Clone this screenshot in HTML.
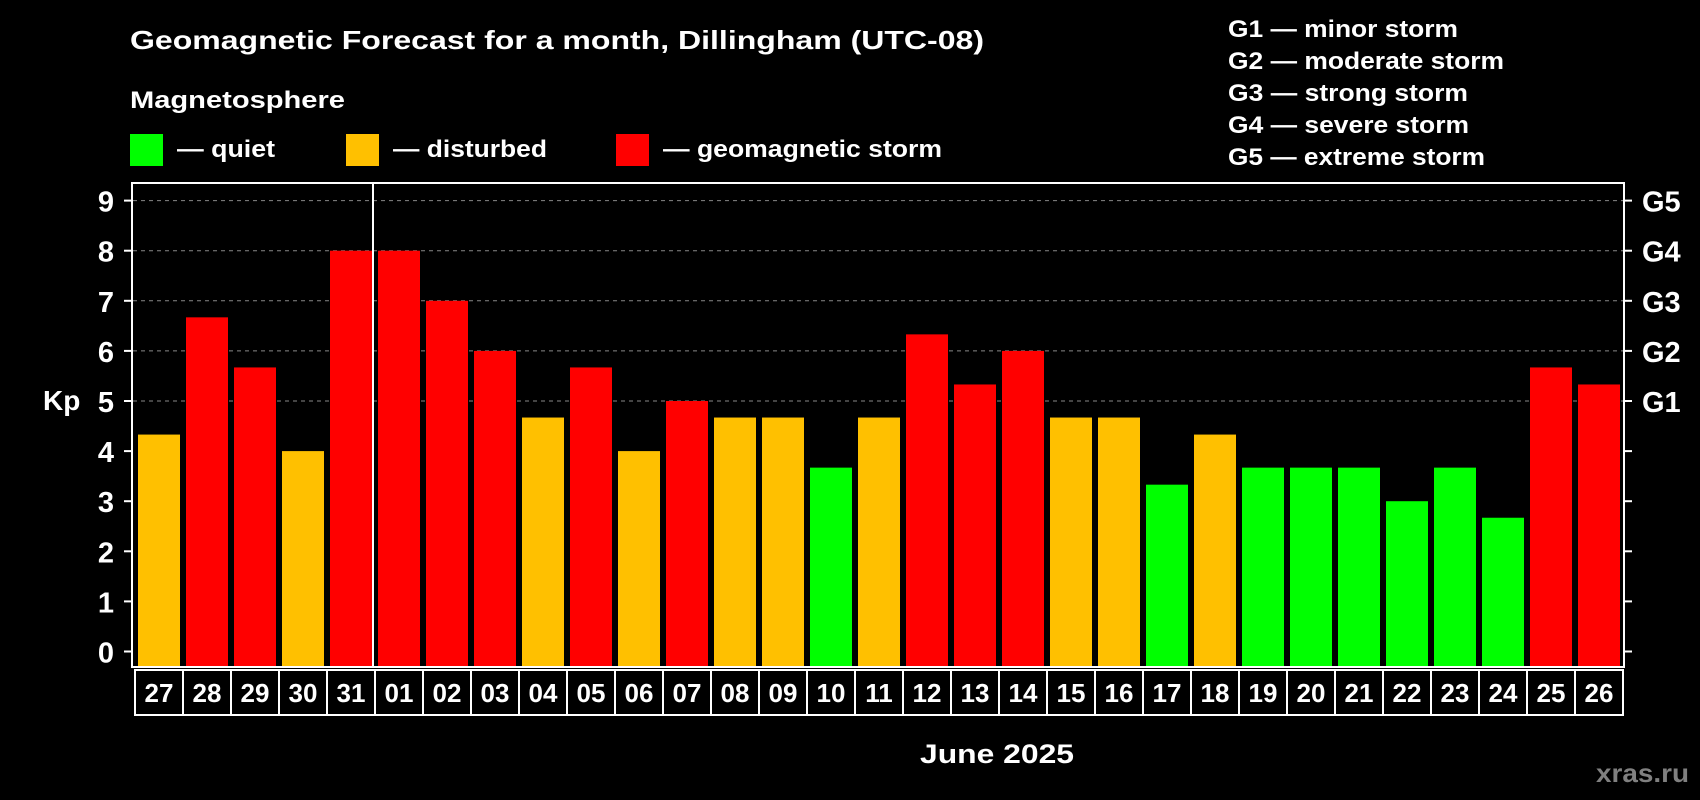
<!DOCTYPE html>
<html><head><meta charset="utf-8"><style>
html,body{margin:0;padding:0;background:#000;}
svg{display:block;font-family:"Liberation Sans",Arial,sans-serif;font-weight:bold;}
</style></head><body>
<svg id="chart" width="1700" height="800" viewBox="0 0 1700 800">
<rect x="0" y="0" width="1700" height="800" fill="#000"/>
<text x="130" y="49" font-size="26" fill="#fff" textLength="854" lengthAdjust="spacingAndGlyphs">Geomagnetic Forecast for a month, Dillingham (UTC-08)</text>
<text x="130" y="108" font-size="24" fill="#fff" textLength="215" lengthAdjust="spacingAndGlyphs">Magnetosphere</text>
<g>
<rect x="130" y="134" width="33" height="32" fill="#00ff00"/>
<text x="177" y="157" font-size="24" fill="#fff" textLength="98" lengthAdjust="spacingAndGlyphs">— quiet</text></g>
<g>
<rect x="346" y="134" width="33" height="32" fill="#ffc000"/>
<text x="393" y="157" font-size="24" fill="#fff" textLength="154" lengthAdjust="spacingAndGlyphs">— disturbed</text></g>
<g>
<rect x="616" y="134" width="33" height="32" fill="#ff0000"/>
<text x="663" y="157" font-size="24" fill="#fff" textLength="279" lengthAdjust="spacingAndGlyphs">— geomagnetic storm</text></g>
<g font-size="24" fill="#fff">
<text x="1228" y="37" textLength="230" lengthAdjust="spacingAndGlyphs">G1 — minor storm</text>
<text x="1228" y="69" textLength="276" lengthAdjust="spacingAndGlyphs">G2 — moderate storm</text>
<text x="1228" y="101" textLength="240" lengthAdjust="spacingAndGlyphs">G3 — strong storm</text>
<text x="1228" y="133" textLength="241" lengthAdjust="spacingAndGlyphs">G4 — severe storm</text>
<text x="1228" y="165" textLength="257" lengthAdjust="spacingAndGlyphs">G5 — extreme storm</text>
</g>
<g id="plot"></g>
<text x="997" y="763" font-size="27" fill="#fff" text-anchor="middle" textLength="154" lengthAdjust="spacingAndGlyphs">June 2025</text>
<text x="1689" y="782" font-size="26" fill="#808080" text-anchor="end" textLength="93" lengthAdjust="spacingAndGlyphs">xras.ru</text>
</svg>
<script>
const days = ["27","28","29","30","31","01","02","03","04","05","06","07","08","09","10","11","12","13","14","15","16","17","18","19","20","21","22","23","24","25","26"];
const kpValues = [4.33,6.67,5.67,4,8,8,7,6,4.67,5.67,4,5,4.67,4.67,3.67,4.67,6.33,5.33,6,4.67,4.67,3.33,4.33,3.67,3.67,3.67,3,3.67,2.67,5.67,5.33];
const yTicks = [0,1,2,3,4,5,6,7,8,9];
const gLabels = ["G1","G2","G3","G4","G5"];
const gLevels = [5,6,7,8,9];

const NS="http://www.w3.org/2000/svg";
const plot=document.getElementById('plot');
const y0=651.5, unit=50.1, x0=134, slot=48, yBot=666;
const yS=v=>y0-v*unit;
const xS=i=>x0+i*slot;
function mk(t,a,p){const e=document.createElementNS(NS,t);for(const k in a)e.setAttribute(k,a[k]);(p||plot).appendChild(e);return e;}

yTicks.forEach(v=>{
  if(v>=5){const g=mk('line',{x1:133,x2:1623,y1:yS(v),y2:yS(v),stroke:'#888','stroke-width':1,'stroke-dasharray':'4,4'});
  
  }
});
kpValues.forEach((v,i)=>{
  const c=v<4?'#00ff00':(v<5?'#ffc000':'#ff0000');
  const r=mk('rect',{x:xS(i)+4,y:yS(v),width:42,height:yBot-yS(v),fill:c});
  
  
});
const f=mk('rect',{x:132,y:183,width:1492,height:yBot+1-183,fill:'none',stroke:'#fff','stroke-width':2});


const dv=mk('line',{x1:xS(5)-1,x2:xS(5)-1,y1:183,y2:yBot+1,stroke:'#fff','stroke-width':2});


yTicks.forEach(v=>{
  mk('line',{x1:124,x2:132,y1:yS(v),y2:yS(v),stroke:'#fff','stroke-width':2});
  mk('line',{x1:1624,x2:1632,y1:yS(v),y2:yS(v),stroke:'#fff','stroke-width':2});
  const t=mk('text',{x:114,y:yS(v)+11,'font-size':29,fill:'#fff','text-anchor':'end'});
  t.textContent=v;
  
  
});
gLabels.forEach((g,i)=>{
  const t=mk('text',{x:1642,y:yS(gLevels[i])+11,'font-size':29,fill:'#fff'});
  t.textContent=g;
  
  
});
const kp=mk('text',{x:43,y:410,'font-size':28,fill:'#fff'});
kp.textContent='Kp';


days.forEach((d,i)=>{
  mk('rect',{x:xS(i)+1,y:670,width:48,height:45,fill:'none',stroke:'#fff','stroke-width':2});
  const t=mk('text',{x:xS(i)+25,y:702,'font-size':26,fill:'#fff','text-anchor':'middle'});
  t.textContent=d;
  
  
});
</script>
</body></html>
